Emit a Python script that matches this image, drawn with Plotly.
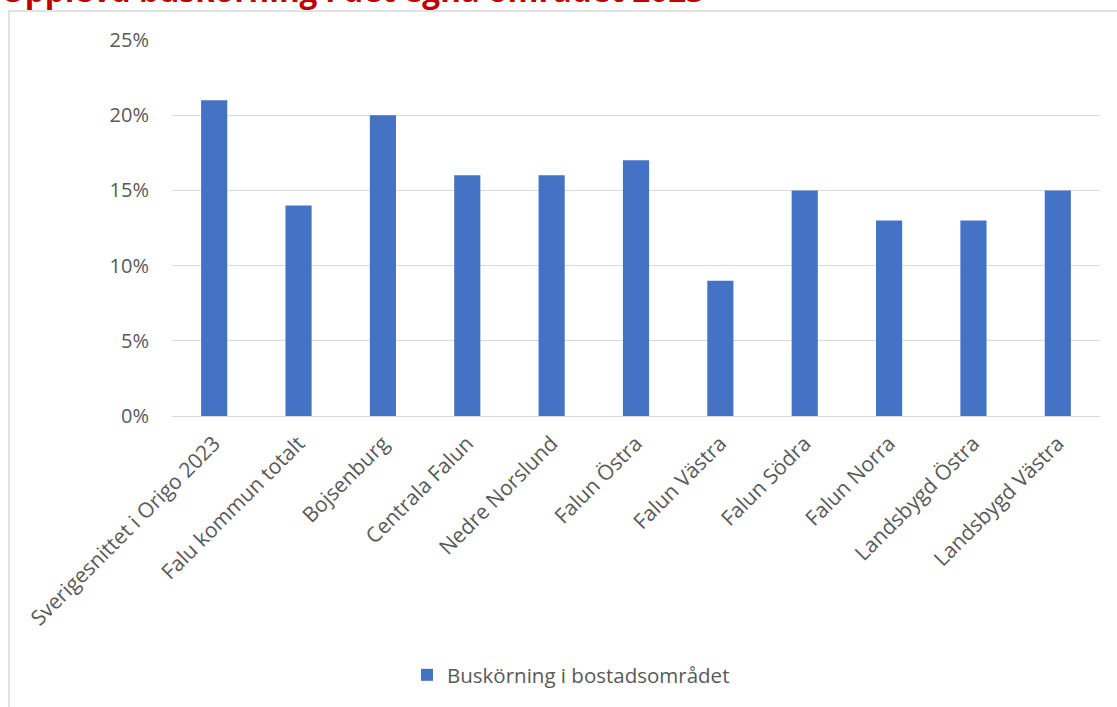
import plotly.graph_objects as go

categories = ["Sverigesnittet i Origo 2023", "Falu kommun totalt", "Bojsenburg",
              "Centrala Falun", "Nedre Norslund", "Falun Östra", "Falun Västra",
              "Falun Södra", "Falun Norra", "Landsbygd Östra", "Landsbygd Västra"]
values = [0.21, 0.14, 0.20, 0.16, 0.16, 0.17, 0.09, 0.15, 0.13, 0.13, 0.15]
series_name = "Buskörning i bostadsområdet"
title_text = "Upplevd buskörning i det egna området 2023"
y_ticks = [0, 0.05, 0.10, 0.15, 0.20, 0.25]
y_ticklabels = ["0%", "5%", "10%", "15%", "20%", "25%"]

W, H = 1117, 707
ML, MR, MT, MB = 172, 17, 40, 291
PW = W - ML - MR
PH = H - MT - MB

def px_x(x):
    return (x - ML) / PW

def px_y(y):
    return (H - MB - y) / PH

FONT = "Open Sans"
GREY = "#595959"

fig = go.Figure()
fig.add_trace(go.Bar(x=categories, y=values, name=series_name,
                     marker=dict(color="#4472C4", line=dict(width=0))))

fig.update_layout(
    width=W, height=H,
    margin=dict(l=ML, r=MR, t=MT, b=MB),
    paper_bgcolor="white", plot_bgcolor="white",
    bargap=0.69,
    font=dict(family=FONT, size=20, color=GREY),
    showlegend=True,
    legend=dict(orientation="h", x=px_x(571), xanchor="center",
                y=px_y(675), yanchor="middle", font=dict(size=20.5, color=GREY)),
    xaxis=dict(tickangle=-45, showgrid=False, showline=False, ticks="",
               ticklabelstandoff=10, tickfont=dict(size=21, color=GREY)),
    yaxis=dict(range=[0, 0.25], tickvals=y_ticks, ticktext=y_ticklabels,
               showgrid=True, gridcolor="#D9D9D9", gridwidth=1,
               zeroline=True, zerolinecolor="#D9D9D9", zerolinewidth=1,
               showline=False, ticks="", ticklabelstandoff=22,
               tickfont=dict(size=20, color=GREY)),
    shapes=[dict(type="rect", xref="paper", yref="paper",
                 x0=px_x(9), x1=px_x(1125), y0=px_y(715), y1=px_y(11),
                 line=dict(color="#D9D9D9", width=1.5), layer="below")],
    annotations=[dict(text="<b>" + title_text + "</b>", xref="paper", yref="paper",
                      x=px_x(-1), xanchor="left", y=px_y(13), yanchor="bottom",
                      showarrow=False, font=dict(family=FONT, size=31.5, color="#C00000"))],
)

fig.write_html("out.html", config={"displayModeBar": False},
               post_script="document.body.style.margin='0';")
